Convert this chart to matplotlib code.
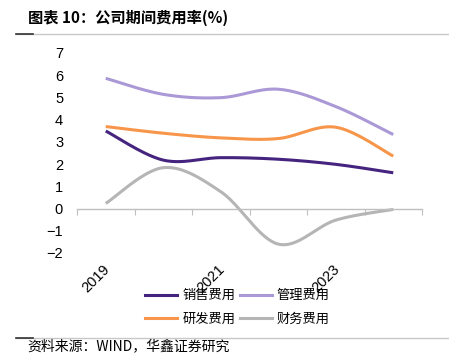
import numpy as np
import matplotlib
matplotlib.use('Agg')
import matplotlib.pyplot as plt
from matplotlib.lines import Line2D
from matplotlib.transforms import blended_transform_factory, offset_copy

plt.rcParams['font.family'] = ['Noto Sans CJK SC', 'DejaVu Sans']

years = ['2019', '2020', '2021', '2022', '2023', '2024']
sales = [3.49, 2.18, 2.29, 2.22, 1.99, 1.61]
admin = [5.86, 5.14, 4.99, 5.37, 4.59, 3.33]
rnd = [3.69, 3.39, 3.18, 3.15, 3.66, 2.36]
fin = [0.23, 1.84, 0.76, -1.60, -0.52, -0.04]
series_names = ['销售费用', '管理费用', '研发费用', '财务费用']
colors = ['#45247F', '#AA99D6', '#F7964A', '#B5B5B5']
yticks = list(range(-2, 8))
label_every = 2


def smooth(x, y, n=40):
    P = np.column_stack([np.asarray(x, float), np.asarray(y, float)])
    out = [P[0]]
    for i in range(len(P) - 1):
        p0 = P[i - 1] if i > 0 else P[i]
        p1, p2 = P[i], P[i + 1]
        p3 = P[i + 2] if i + 2 < len(P) else P[i + 1]
        c1 = p1 + (p2 - p0) / 6
        c2 = p2 - (p3 - p1) / 6
        t = np.linspace(0, 1, n)[1:, None]
        B = (1 - t) ** 3 * p1 + 3 * (1 - t) ** 2 * t * c1 + 3 * (1 - t) * t ** 2 * c2 + t ** 3 * p2
        out.extend(B)
    out = np.array(out)
    return out[:, 0], out[:, 1]


fig = plt.figure(figsize=(4.49, 3.62), dpi=100)
W, H = 449, 362
ax = fig.add_axes([77 / W, (H - 253) / H, 345 / W, 200 / H])

x = np.arange(len(years))
for vals, c in zip([sales, admin, rnd, fin], colors):
    sx, sy = smooth(x, vals)
    ax.plot(sx, sy, color=c, lw=2.2, solid_capstyle='butt')

ax.set_xlim(-0.5, len(years) - 0.5)
ax.set_ylim(min(yticks), max(yticks))
ax.set_yticks(yticks)
ax.set_yticklabels([str(v).replace('-', '−') for v in yticks], fontsize=10.5,
                   family=['Liberation Sans', 'DejaVu Sans'])
ax.tick_params(axis='y', length=0, pad=10)

for s in ['left', 'right', 'top']:
    ax.spines[s].set_visible(False)
ax.spines['bottom'].set_position(('data', 0))
ax.spines['bottom'].set_color('#BFBFBF')
ax.spines['bottom'].set_linewidth(1)
ax.set_xticks(np.arange(len(years) + 1) - 0.5)
ax.set_xticklabels([])
ax.tick_params(axis='x', length=4, color='#BFBFBF', direction='out')

trans = blended_transform_factory(ax.transData, ax.transAxes)
trans = offset_copy(trans, fig=fig, x=2, y=-14, units='dots')
for i, yr in enumerate(years):
    if i % label_every == 0:
        ax.text(i, 0, yr, transform=trans, rotation=45, rotation_mode='anchor',
                ha='right', va='center', fontsize=10.5, family='Liberation Sans')

handles = [Line2D([], [], color=c, lw=2.2) for c in colors]
order = [0, 2, 1, 3]
fig.legend([handles[i] for i in order], [series_names[i] for i in order], ncol=2,
           loc='upper left', bbox_to_anchor=(140 / W, 1 - 284 / H), frameon=False,
           fontsize=9.5, handlelength=2.4, handletextpad=0.4,
           columnspacing=0.35, labelspacing=0.8, borderaxespad=0)

# title and rules
fig.text(28 / W, 1 - 18 / H, '图表 10：公司期间费用率(%)', fontsize=11, fontweight='bold',
         ha='left', va='center')
for yy in [34, 338]:
    fig.add_artist(Line2D([16 / W, 1], [1 - yy / H] * 2, color='#C8C8C8', lw=1))
    fig.add_artist(Line2D([16 / W, 33 / W], [1 - yy / H] * 2, color='#333333', lw=1.2))
fig.text(27 / W, 1 - 346 / H, '资料来源：WIND，华鑫证券研究', fontsize=10,
         ha='left', va='center')

fig.savefig('out.png', dpi=100)
